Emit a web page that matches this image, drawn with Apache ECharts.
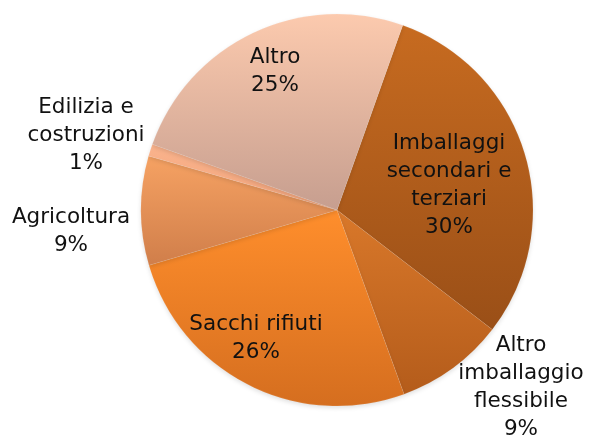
<!DOCTYPE html>
<html><head><meta charset="utf-8">
<script src="https://cdn.jsdelivr.net/npm/echarts@6/dist/echarts.min.js"></script>
<style>html,body{margin:0;padding:0;background:#fff}#c{width:595px;height:443px}</style>
</head><body><div id="c"></div>
<script>
const categories = ['Imballaggi secondari e terziari','Altro imballaggio flessibile','Sacchi rifiuti','Agricoltura','Edilizia e costruzioni','Altro'];
const labelTexts = ['Imballaggi\nsecondari e\nterziari','Altro\nimballaggio\nflessibile','Sacchi rifiuti','Agricoltura','Edilizia e\ncostruzioni','Altro'];
const values = [30, 9, 26, 9, 1, 25];

const gradients = [
  ['#c76b20','#9a4f17'],
  ['#d9782a','#b45c1b'],
  ['#ff8e2c','#d56e1f'],
  ['#f6a263','#d07e4a'],
  ['#fab38c','#f2a47c'],
  ['#fccaae','#c69e8f']
];
const labelPos = [[449,185],[521,387],[256,338],[71,231],[86,135],[275,71]];

const chart = echarts.init(document.getElementById('c'), null, {renderer:'canvas'});
chart.setOption({
  animation:false,
  series:[{
    type:'pie',
    center:[337,210],
    radius:196,
    startAngle:70.4,
    clockwise:true,
    data: categories.map((c,i)=>({
      name:c, value:values[i],
      itemStyle:{
        color:new echarts.graphic.LinearGradient(0,0,0,1,[{offset:0,color:gradients[i][0]},{offset:1,color:gradients[i][1]}]),
        borderColor:'rgba(255,255,255,0.15)', borderWidth:0.6,
        shadowColor:'rgba(0,0,0,0.12)', shadowBlur:4, shadowOffsetY:2
      }
    })),
    label:{
      show:true,
      position:'inside',
      formatter:p=>labelTexts[p.dataIndex]+'\n'+p.value+'%',
      fontFamily:'DejaVu Sans',
      fontSize:21.5,
      lineHeight:28,
      color:'#111',
      align:'center'
    },
    labelLine:{show:false},
    labelLayout:function(p){
      const pos = labelPos[p.dataIndex];
      return {x:pos[0], y:pos[1], align:'center', verticalAlign:'middle'};
    }
  }]
});
</script></body></html>
